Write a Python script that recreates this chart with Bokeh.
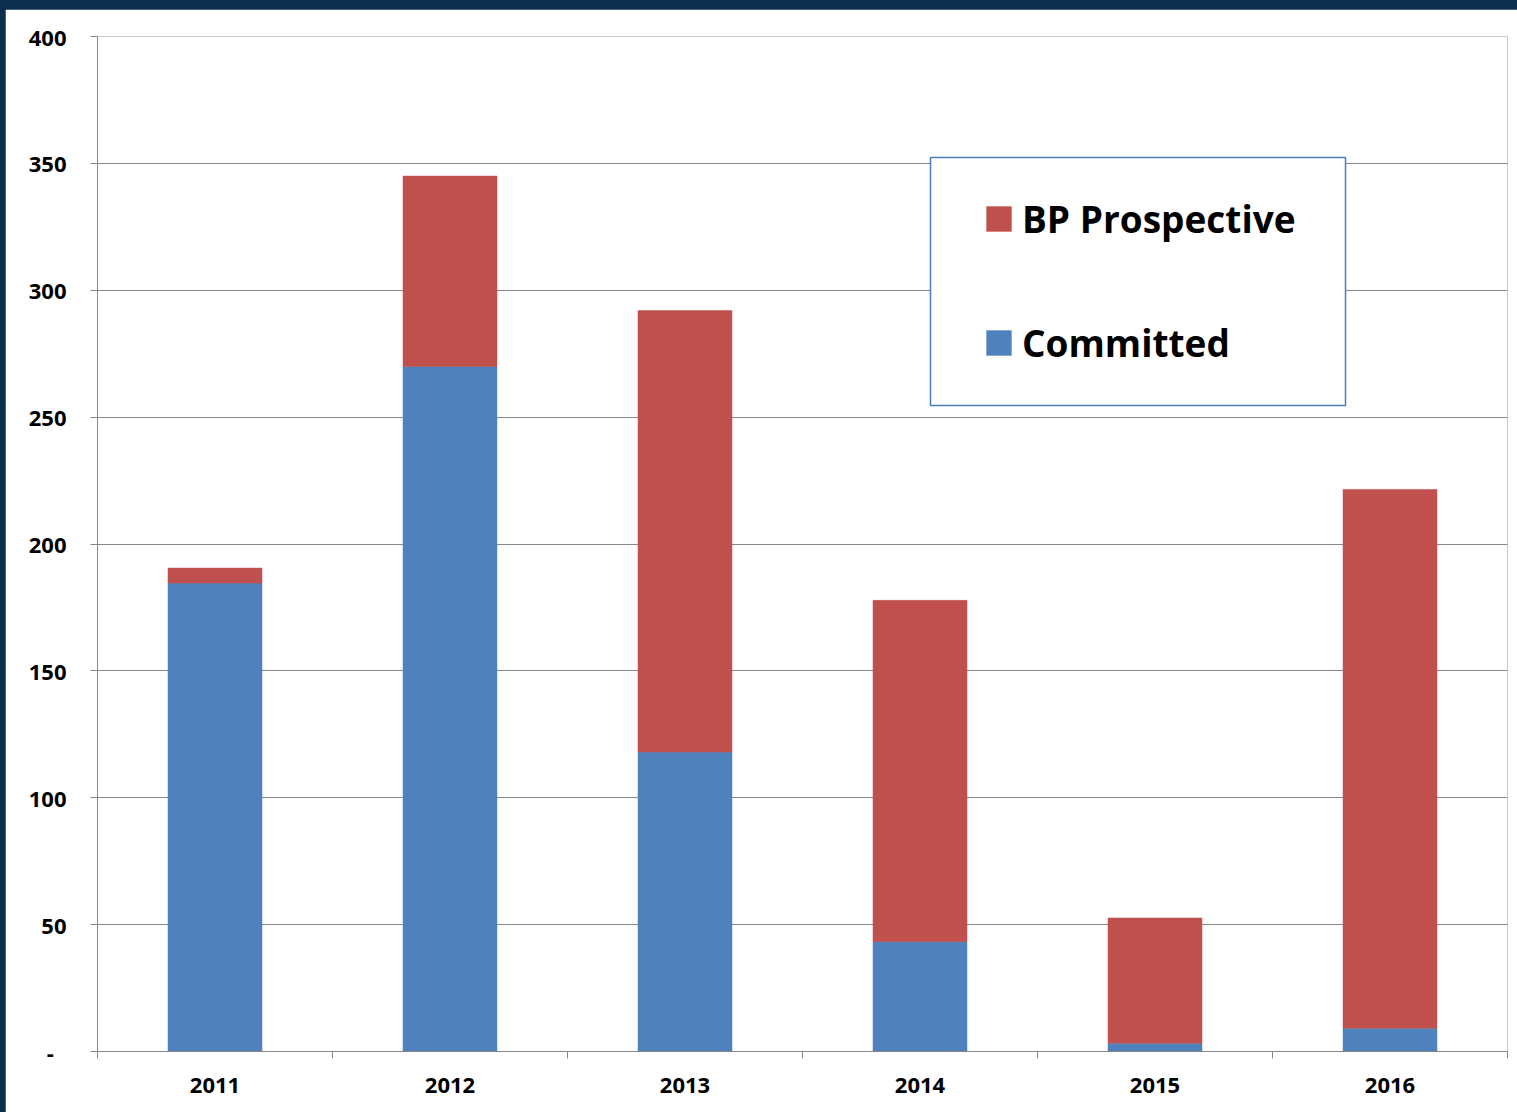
import numpy as np
from bokeh.plotting import figure
from bokeh.models import (Range1d, FixedTicker, Legend, LegendItem, BoxAnnotation,
                          ColumnDataSource)
from bokeh.layouts import column
from bokeh.embed import file_html
from bokeh.resources import INLINE

years = ["2011", "2012", "2013", "2014", "2015", "2016"]
committed = [184.6, 270.0, 118.0, 43.3, 3.3, 9.2]
prospective = [5.9, 75.0, 174.0, 134.5, 49.3, 212.3]
y_ticks = [0, 50, 100, 150, 200, 250, 300, 350, 400]

BLUE = "#4F81BD"
RED = "#C0504D"
GRID = "#868686"
FONT = "Open Sans"

centers = [i + 0.5 for i in range(len(years))]
source = ColumnDataSource(dict(x=centers, years=years,
                               Committed=committed, Prospective=prospective))

p = figure(width=1512, height=1103, output_backend="svg", toolbar_location=None,
           x_range=Range1d(0, len(years)), y_range=Range1d(0, 400),
           min_border_left=92, min_border_right=10, min_border_top=27,
           min_border_bottom=61, outline_line_color=None)
p.margin = (9, 0, 0, 5)
p.background_fill_color = "white"
p.border_fill_color = "white"
p.border_line_color = None

rs = p.vbar_stack(["Committed", "Prospective"], x="x", width=0.4, source=source,
                  color=[BLUE, RED], line_color=[BLUE, RED], line_width=0.5)

# axes
xa = p.xaxis[0]
xa.ticker = FixedTicker(ticks=centers, minor_ticks=list(range(len(years) + 1)))
xa.major_label_overrides = {c: y for c, y in zip(centers, years)}
xa.major_tick_out = 0
xa.major_tick_in = 0
xa.minor_tick_out = 7
xa.minor_tick_in = 0
xa.minor_tick_line_color = GRID
xa.axis_line_color = GRID
xa.major_label_text_font = FONT
xa.major_label_text_font_style = "bold"
xa.major_label_text_font_size = "22px"
xa.major_label_text_color = "black"
xa.major_label_standoff = 19

ya = p.yaxis[0]
ya.ticker = FixedTicker(ticks=y_ticks)
ya.major_label_overrides = {0: "-\u2007"}
ya.major_tick_out = 7
ya.major_tick_in = 0
ya.minor_tick_line_color = None
ya.major_tick_line_color = GRID
ya.axis_line_color = GRID
ya.major_label_text_font = FONT
ya.major_label_text_font_style = "bold"
ya.major_label_text_font_size = "22px"
ya.major_label_text_color = "black"
ya.major_label_standoff = 24

p.xgrid.visible = False
p.ygrid.grid_line_color = GRID
p.ygrid.grid_line_width = 1

# legend frame
box = BoxAnnotation(left=833, right=1248, top=894, bottom=646,
                    left_units="screen", right_units="screen",
                    top_units="screen", bottom_units="screen",
                    fill_color="white", fill_alpha=1.0,
                    line_color="#4a7ebb", line_alpha=1.0, line_width=1.5)
p.add_layout(box)

legend = Legend(items=[LegendItem(label="BP Prospective", renderers=[rs[1]]),
                       LegendItem(label="Committed", renderers=[rs[0]])],
                location=(886, 682), orientation="vertical",
                border_line_color=None, background_fill_alpha=0,
                padding=0, margin=0, spacing=70,
                glyph_width=31, glyph_height=31, label_standoff=8,
                label_height=54,
                label_text_font=FONT, label_text_font_style="bold",
                label_text_font_size="37px", label_text_color="black")
p.add_layout(legend)

layout = column(p, styles={"background-color": "#0c2d4e"})
open("out.html", "w").write(file_html(layout, INLINE))
